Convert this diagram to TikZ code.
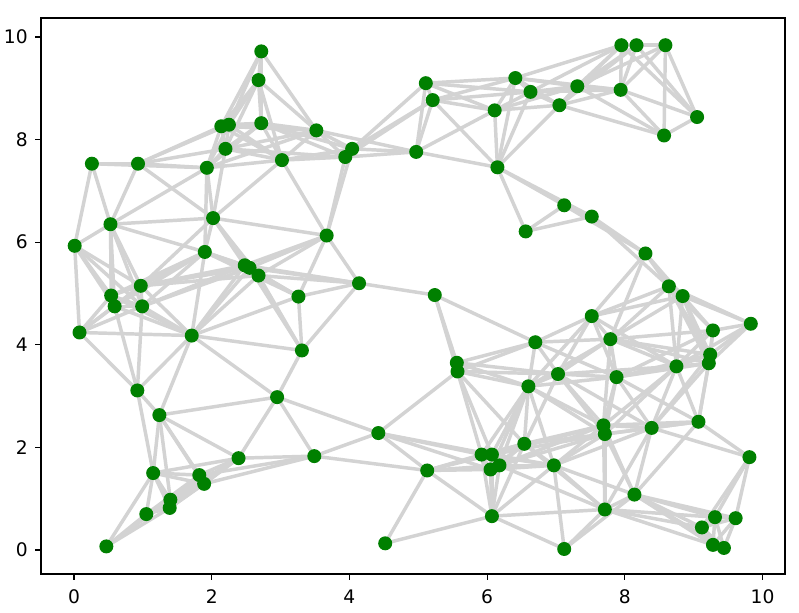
\documentclass[tikz,border=0pt]{standalone}
\usepackage{fontspec}
\setmainfont{DejaVu Sans}
\definecolor{edgegray}{HTML}{D3D3D3}
\definecolor{nodegreen}{HTML}{008000}
\pgfdeclarelayer{background}
\pgfsetlayers{background,main}
\begin{document}
\begin{tikzpicture}[x=0.75pt,y=0.75pt,
  edge/.style={draw=edgegray, line width=2.6pt},
  dot/.style={circle, fill=nodegreen, draw=none, inner sep=0pt, minimum size=10.5pt},
  ticklab/.style={font=\fontsize{14}{16}\selectfont, inner sep=0pt, text=black},
  tick/.style={line width=0.9pt, black}]
\useasboundingbox (0,0) rectangle (799,612);
\begin{pgfonlayer}{background}
\fill[white] (0,0) rectangle (799,612);
\end{pgfonlayer}
\def\pts{2.72/9.72,2.68/9.16,2.14/8.26,2.25/8.29,2.72/8.32,2.20/7.82,1.93/7.45,3.02/7.60,0.26/7.53,0.93/7.53,
3.52/8.18,4.04/7.82,3.94/7.66,5.11/9.10,5.21/8.77,4.97/7.76,6.11/8.57,6.41/9.20,6.63/8.93,6.15/7.46,
7.31/9.04,7.05/8.67,7.94/8.97,7.95/9.84,8.17/9.84,8.59/9.84,9.05/8.44,8.57/8.08,0.53/6.35,2.02/6.47,
0.01/5.93,1.90/5.81,2.48/5.55,2.55/5.50,2.68/5.35,0.97/5.15,0.54/4.96,0.59/4.75,0.99/4.75,3.26/4.94,
3.67/6.13,6.56/6.21,4.14/5.20,5.24/4.97,7.12/6.72,7.52/6.50,8.30/5.78,8.64/5.14,8.84/4.95,0.08/4.24,
1.71/4.18,3.31/3.89,0.92/3.11,2.95/2.98,1.24/2.63,6.70/4.05,5.56/3.65,5.57/3.48,6.60/3.19,4.42/2.28,
6.54/2.07,7.52/4.56,9.83/4.41,9.28/4.28,7.79/4.11,9.24/3.81,9.22/3.64,8.75/3.58,7.03/3.43,7.88/3.37,
9.07/2.50,7.69/2.43,7.71/2.26,8.39/2.38,1.15/1.50,1.05/0.70,1.39/0.82,1.40/0.98,1.82/1.46,1.89/1.29,
2.39/1.79,0.47/0.07,3.49/1.83,5.13/1.55,5.92/1.86,6.07/1.86,6.18/1.65,6.05/1.57,6.07/0.66,4.52/0.13,
6.97/1.65,9.81/1.81,8.14/1.08,7.71/0.79,7.12/0.02,9.31/0.64,9.61/0.62,9.12/0.44,9.28/0.10,9.44/0.04}
\begin{scope}[shift={(55.5pt,46.5pt)}, x=51.6375pt, y=38.475pt]
\foreach \xa/\ya [count=\i] in \pts {\node[dot] (n\i) at (\xa,\ya) {};}
\begin{pgfonlayer}{background}
\foreach \xa/\ya [count=\i] in \pts {
  \foreach \xb/\yb [count=\j] in \pts {
    \ifnum\j>\i
      \pgfmathparse{((\xa-\xb)^2+(\ya-\yb)^2)<3.17 ? 1 : 0}
      \ifdim\pgfmathresult pt>0.5pt \draw[edge] (n\i.center) -- (n\j.center);\fi
    \fi
  }
}
\end{pgfonlayer}
\end{scope}
\draw[line width=1pt] (41,38) rectangle (785,594);
\foreach \t in {0,2,4,6,8,10} {
  \draw[tick] (74+68.85*\t,38) -- ++(0,-6);
  \node[ticklab, anchor=north] at (74+68.85*\t,22.3) {\t};
  \draw[tick] (41,62+51.3*\t) -- ++(-6,0);
  \node[ticklab, anchor=east] at (28,62+51.3*\t) {\t};
}
\end{tikzpicture}
\end{document}
